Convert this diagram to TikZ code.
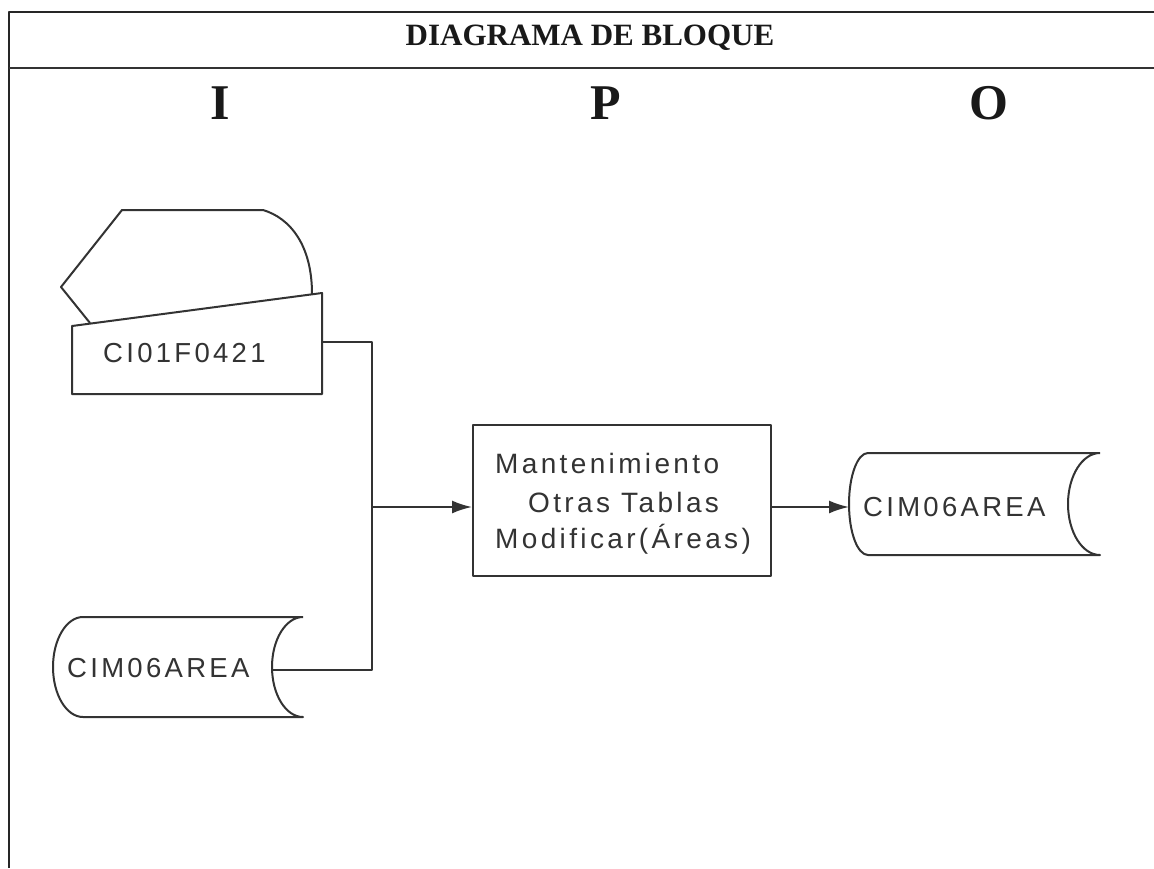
\documentclass[tikz,border=0pt]{standalone}
\usepackage{fontspec}
\setmainfont{Liberation Serif}
\newfontfamily\lsans[LetterSpace=12]{Liberation Sans}
\usetikzlibrary{arrows.meta}
\begin{document}
\begin{tikzpicture}[x=1pt,y=-1pt, line join=round,
  ln/.style={draw=black!80, line width=2pt},
  lbl/.style={font=\lsans\fontsize{27.5}{30}\selectfont, text=black!80, inner sep=0pt, anchor=base west},
  plbl/.style={font=\lsans\fontsize{28}{30}\selectfont, text=black!80, inner sep=0pt, anchor=base west},
  hd/.style={font=\bfseries\fontsize{31}{36}\selectfont, text=black!90, inner sep=0pt, anchor=base},
  iop/.style={font=\bfseries\fontsize{50}{56}\selectfont, text=black!90, inner sep=0pt, anchor=base},
  arr/.style={ln, -{Latex[length=20pt,width=13pt]}}]
\useasboundingbox (0,0) rectangle (1154,868);
\fill[white] (0,0) rectangle (1154,868);
% frame
\draw[line width=2.8pt, black!85] (9,868) -- (9,12) -- (1154,12);
\draw[ln] (9,68) -- (1154,68);
\node[hd] (title) at (590,45) {DIAGRAMA DE BLOQUE};
\node[iop] (I) at (220,119) {I};
\node[iop] (P) at (606,119) {P};
\node[iop] (O) at (989,119) {O};
% screen + keyboard (input)
\draw[ln] (90,323) -- (61,287) -- (122,210) -- (263,210)
  .. controls (290,218) and (312,245) .. (312,294);
\draw[ln] (72,394) -- (72,326) -- (322,293) -- (322,394) -- cycle;
\node[lbl] (kbtext) at (103,362) {CI01F0421};
% input storage
\draw[ln] (303,617) -- (83,617)
  arc[start angle=270, end angle=90, x radius=30, y radius=50]
  -- (303,717)
  arc[start angle=90, end angle=270, x radius=31, y radius=50];
\node[lbl] (instore) at (67,677) {CIM06AREA};
% process
\node[ln, draw, minimum width=298pt, minimum height=151pt, inner sep=0pt] (proc) at (622,500.5) {};
\node[plbl] (t1) at (495,473) {Mantenimiento};
\node[plbl] (t2) at (528,512) {Otras Tablas};
\node[plbl] (t3) at (495,548) {Modificar(Áreas)};
% output storage
\draw[ln] (1100,453) -- (868,453)
  arc[start angle=270, end angle=90, x radius=19, y radius=51]
  -- (1100,555)
  arc[start angle=90, end angle=270, x radius=32, y radius=51];
\node[lbl] (outstore) at (863,516) {CIM06AREA};
% connectors
\coordinate (kbR) at (322,342);
\coordinate (inR) at (273,670);
\coordinate (j) at (372,507);
\coordinate (outL) at (849,507);
\draw[ln] (kbR) -- (kbR -| j) -- (j |- inR) -- (inR);
\draw[arr] (j) -- (j -| proc.west);
\draw[arr] (proc.east |- j) -- (outL);
\end{tikzpicture}
\end{document}
